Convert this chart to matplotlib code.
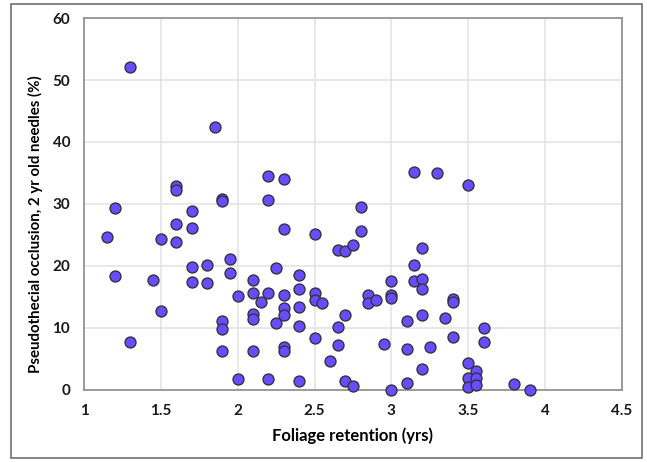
import numpy as np
import matplotlib
matplotlib.use('Agg')
import matplotlib.pyplot as plt
from matplotlib.patches import Rectangle

# foliage retention (yrs)
retention = [1.15, 1.2, 1.2, 1.3, 1.3, 1.45, 1.5, 1.5,
             1.6, 1.6, 1.6, 1.6, 1.7, 1.7, 1.7, 1.7, 1.8, 1.8, 1.85,
             1.9, 1.9, 1.9, 1.9, 1.9, 1.95, 1.95, 2.0, 2.0,
             2.1, 2.1, 2.1, 2.1, 2.1, 2.15, 2.2, 2.2, 2.2, 2.2, 2.25, 2.25,
             2.3, 2.3, 2.3, 2.3, 2.3, 2.3, 2.3, 2.4, 2.4, 2.4, 2.4, 2.4,
             2.5, 2.5, 2.5, 2.5, 2.55, 2.6, 2.65, 2.65, 2.65, 2.7, 2.7, 2.7,
             2.75, 2.75, 2.8, 2.8, 2.85, 2.85, 2.9, 2.95,
             3.0, 3.0, 3.0, 3.0, 3.1, 3.1, 3.1, 3.15, 3.15, 3.15,
             3.2, 3.2, 3.2, 3.2, 3.2, 3.25, 3.3, 3.35, 3.4, 3.4, 3.4,
             3.5, 3.5, 3.5, 3.5, 3.55, 3.55, 3.55, 3.6, 3.6, 3.8, 3.9]
# pseudothecial occlusion, 2 yr old needles (%)
occlusion = [24.6, 29.4, 18.3, 52.1, 7.8, 17.8, 24.4, 12.8,
             32.9, 32.3, 26.8, 23.9, 28.8, 26.2, 19.8, 17.4, 20.2, 17.3, 42.4,
             30.8, 30.5, 11.2, 9.9, 6.2, 21.1, 18.9, 15.2, 1.8,
             17.8, 15.6, 12.3, 11.5, 6.3, 14.2, 34.5, 30.7, 15.6, 1.8, 19.6, 10.8,
             34.0, 25.9, 15.3, 13.2, 12.1, 7.0, 6.3, 18.5, 16.3, 13.4, 10.3, 1.5,
             25.1, 15.6, 14.5, 8.3, 14.1, 4.6, 22.6, 10.2, 7.2, 22.4, 12.1, 1.4,
             23.4, 0.6, 29.5, 25.6, 15.3, 14.0, 14.5, 7.4,
             17.6, 15.3, 14.8, 0.0, 11.2, 6.6, 1.1, 35.1, 20.2, 17.6,
             22.9, 17.9, 16.3, 12.1, 3.3, 6.9, 35.0, 11.6, 14.7, 14.2, 8.6,
             33.1, 4.4, 1.9, 0.4, 3.1, 1.9, 0.8, 10.0, 7.8, 0.9, 0.0]

xticks = [1, 1.5, 2, 2.5, 3, 3.5, 4, 4.5]
xticklabels = ['1', '1.5', '2', '2.5', '3', '3.5', '4', '4.5']
yticks = [0, 10, 20, 30, 40, 50, 60]

plt.rcParams['font.family'] = ['Lato', 'DejaVu Sans']
plt.rcParams['font.weight'] = 'bold'

fig = plt.figure(figsize=(6.47, 4.62), dpi=100)
ax = fig.add_axes([0.130, 0.156, 0.831, 0.805])

ax.scatter(retention, occlusion, s=62, c='#6a4cff', edgecolors='#33333f',
           linewidths=1.0, zorder=3, clip_on=False)

ax.set_xlim(1, 4.5)
ax.set_ylim(0, 60)
ax.set_xticks(xticks)
ax.set_xticklabels(xticklabels)
ax.set_yticks(yticks)
ax.grid(True, color='#e4e4e4', linewidth=1.2, zorder=0)
ax.set_axisbelow(True)
ax.tick_params(length=0, labelsize=11, pad=10, colors='#1a1a1a')
for sp in ax.spines.values():
    sp.set_color('#8c8c8c')
    sp.set_linewidth(1.2)

ax.set_xlabel('Foliage retention (yrs)', fontsize=12, fontweight='bold', labelpad=7)
ax.set_ylabel('Pseudothecial occlusion, 2 yr old needles (%)', fontsize=10.8,
              fontweight='bold')
ax.yaxis.set_label_coords(-0.076, 0.445)

# outer frame
fig.patches.append(Rectangle((11/647, 4/462), 631/647, 454/462, transform=fig.transFigure,
                             fill=False, edgecolor='#707070', linewidth=1.2))

fig.savefig('out.png', dpi=100)
